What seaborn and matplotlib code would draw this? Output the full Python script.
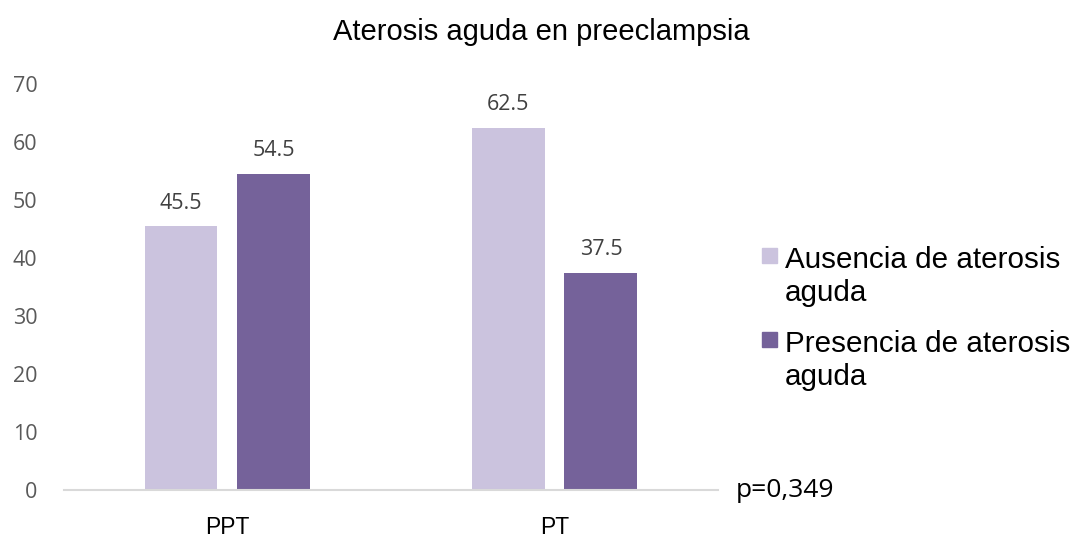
import matplotlib
matplotlib.use("Agg")
import matplotlib.pyplot as plt
import seaborn as sns
import pandas as pd

categories = ["PPT", "PT"]
series_names = ["Ausencia de aterosis aguda", "Presencia de aterosis aguda"]
legend_labels = ["Ausencia de aterosis\naguda", "Presencia de aterosis\naguda"]
ausencia = [45.5, 62.5]
presencia = [54.5, 37.5]
yticks = [0, 10, 20, 30, 40, 50, 60, 70]

df = pd.DataFrame({
    "grupo": categories * 2,
    "serie": [series_names[0]] * 2 + [series_names[1]] * 2,
    "valor": ausencia + presencia,
})

sns.set_theme(style="white")
plt.rcParams["font.family"] = ["Open Sans", "DejaVu Sans"]
ARIAL = ["Liberation Sans", "DejaVu Sans"]

colors = ["#CBC3DE", "#75629A"]

fig = plt.figure(figsize=(10.75, 5.41), dpi=100)
ax = fig.add_axes([0.0595, 0.0943, 0.6084, 0.7504])

sns.barplot(data=df, x="grupo", y="valor", hue="serie", order=categories,
            hue_order=series_names, palette=colors, width=0.568, gap=0.215,
            saturation=1, linewidth=0, edgecolor="none", ax=ax, legend=False)

for cont in ax.containers:
    ax.bar_label(cont, labels=[f"{v:.1f}" for v in cont.datavalues],
                 padding=9, fontsize=15.5, color="#404040")

ax.set_ylim(0, 70)
ax.set_xlim(-0.5, 1.5)
ax.set_yticks(yticks)
ax.set_yticklabels([str(t) for t in yticks])
ax.tick_params(axis="y", labelsize=15.5, labelcolor="#595959", length=0, pad=19)
ax.tick_params(axis="x", labelsize=16.5, labelcolor="#000000", length=0, pad=19)
ax.set_xlabel("")
ax.set_ylabel("")
for s in ["top", "right", "left"]:
    ax.spines[s].set_visible(False)
ax.spines["bottom"].set_color("#D9D9D9")
ax.spines["bottom"].set_linewidth(1.5)
for lbl in ax.get_xticklabels():
    lbl.set_family(ARIAL)

fig.text(0.504, 0.941, "Aterosis aguda en preeclampsia", ha="center", va="center",
         fontsize=21, family=ARIAL, color="#000000")

fig.text(0.684, 0.094, "p=0,349", ha="left", va="center", fontsize=19,
         color="#000000")

# legend drawn by hand so each swatch sits beside the first line of its label
W, H = 1075.0, 541.0
swatch_top = [248, 332]
text_base = [268, 352]
for c, lab, st, tb in zip(colors, legend_labels, swatch_top, text_base):
    fig.patches.append(plt.Rectangle((762 / W, 1 - (st + 15) / H), 15 / W, 15 / H,
                                     transform=fig.transFigure, color=c))
    first, second = lab.split("\n")
    fig.text(785 / W, 1 - tb / H, first, ha="left", va="baseline",
             fontsize=21.3, family=ARIAL, color="#000000")
    fig.text(785 / W, 1 - (tb + 33) / H, second, ha="left", va="baseline",
             fontsize=21.3, family=ARIAL, color="#000000")

fig.savefig("out.png", dpi=100)
